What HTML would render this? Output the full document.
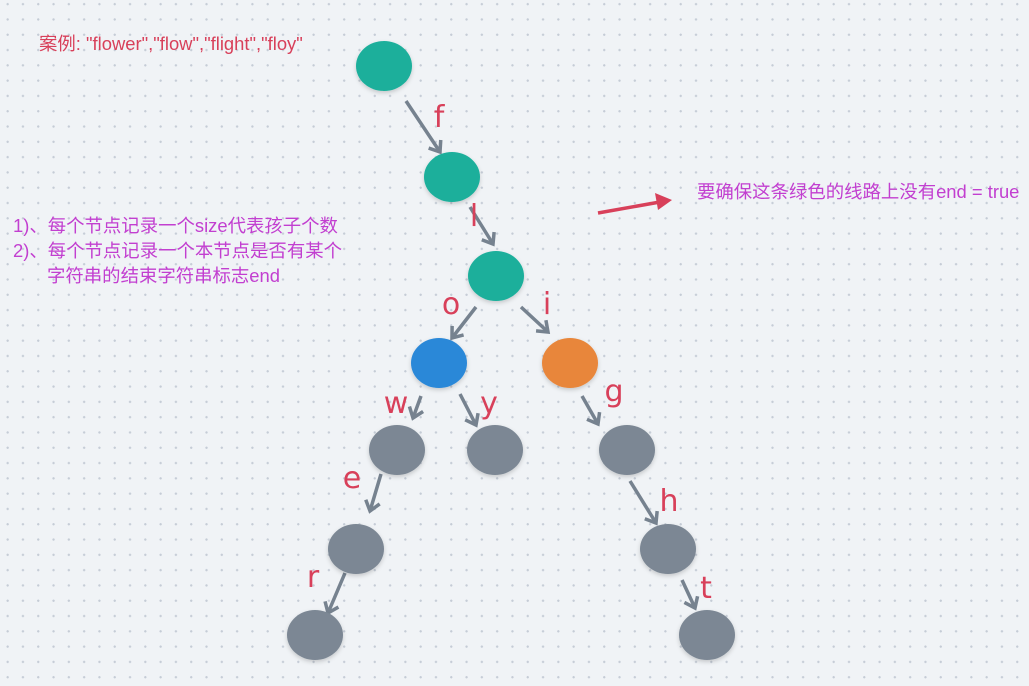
<!DOCTYPE html>
<html><head><meta charset="utf-8"><style>
html,body{margin:0;padding:0}
body{width:1029px;height:686px;overflow:hidden;background:#f0f3f6;
background-image:radial-gradient(circle,#c5ccd6 1px,transparent 1.3px);background-size:15.3px 15.3px;background-position:0px -3.5px;
font-family:"Liberation Sans","Noto Sans CJK SC",sans-serif;position:relative}
.t{position:absolute;white-space:nowrap}
</style></head><body>
<div class="t" style="left:39px;top:30px;font-size:18.4px;color:#d8405a">案例: "flower","flow","flight","floy"</div>
<div class="t" style="left:13px;top:213px;font-size:18.4px;color:#c23fd0;line-height:25px">1)、每个节点记录一个size代表孩子个数<br>2)、每个节点记录一个本节点是否有某个<br><span style="padding-left:34px">字符串的结束字符串标志end</span></div>
<div class="t" style="left:697px;top:178px;font-size:18.4px;color:#c23fd0">要确保这条绿色的线路上没有end = true</div>
<svg id="sv" width="1029" height="686" style="position:absolute;left:0;top:0" font-family="DejaVu Sans, sans-serif">
<defs>
<filter id="s" x="-30%" y="-30%" width="160%" height="170%"><feDropShadow dx="0" dy="2" stdDeviation="2" flood-color="#000" flood-opacity="0.18"/></filter>
</defs>
<g id="ar" stroke="#76828f" stroke-width="3.5" fill="none" stroke-linecap="butt">
<line x1="406" y1="101" x2="440" y2="152"/>
<line x1="470" y1="207" x2="493" y2="244"/>
<line x1="476" y1="307" x2="452" y2="338"/>
<line x1="521" y1="307" x2="548" y2="332"/>
<line x1="421" y1="396" x2="413" y2="418"/>
<line x1="460" y1="394" x2="476" y2="425"/>
<line x1="582" y1="396" x2="598" y2="424"/>
<line x1="381" y1="474" x2="370" y2="511"/>
<line x1="630" y1="481" x2="656" y2="523"/>
<line x1="345" y1="573" x2="328" y2="613"/>
<line x1="682" y1="580" x2="695" y2="608"/>
</g>
<line x1="598" y1="213" x2="660" y2="202" stroke="#d8405a" stroke-width="3.5"/>
<polygon points="672,200 655,193 658,210" fill="#d8405a"/>
<g filter="url(#s)">
<ellipse cx="384" cy="66" rx="28" ry="25" fill="#1aaf9b"/>
<ellipse cx="452" cy="177" rx="28" ry="25" fill="#1aaf9b"/>
<ellipse cx="496" cy="276" rx="28" ry="25" fill="#1aaf9b"/>
<ellipse cx="439" cy="363" rx="28" ry="25" fill="#2b88d8"/>
<ellipse cx="570" cy="363" rx="28" ry="25" fill="#e8863a"/>
<ellipse cx="397" cy="450" rx="28" ry="25" fill="#7b8794"/>
<ellipse cx="495" cy="450" rx="28" ry="25" fill="#7b8794"/>
<ellipse cx="627" cy="450" rx="28" ry="25" fill="#7b8794"/>
<ellipse cx="356" cy="549" rx="28" ry="25" fill="#7b8794"/>
<ellipse cx="668" cy="549" rx="28" ry="25" fill="#7b8794"/>
<ellipse cx="315" cy="635" rx="28" ry="25" fill="#7b8794"/>
<ellipse cx="707" cy="635" rx="28" ry="25" fill="#7b8794"/>
</g>
<g fill="#d8405a" font-size="30" text-anchor="middle">
<text x="439" y="127">f</text>
<text x="474" y="226">l</text>
<text x="451" y="314">o</text>
<text x="547" y="314">i</text>
<text x="396" y="413">w</text>
<text x="489" y="413">y</text>
<text x="614" y="401">g</text>
<text x="352" y="488">e</text>
<text x="669" y="511">h</text>
<text x="313" y="587">r</text>
<text x="706" y="598">t</text>
</g>
</svg>
<script>
var g=document.getElementById('ar');var ls=g.querySelectorAll('line');
for(var i=0;i<ls.length;i++){var l=ls[i];var x1=+l.getAttribute('x1'),y1=+l.getAttribute('y1'),x2=+l.getAttribute('x2'),y2=+l.getAttribute('y2');
var a=Math.atan2(y2-y1,x2-x1),L=12,s=0.65;
var p=document.createElementNS('http://www.w3.org/2000/svg','polyline');
p.setAttribute('points',(x2-L*Math.cos(a-s))+','+(y2-L*Math.sin(a-s))+' '+x2+','+y2+' '+(x2-L*Math.cos(a+s))+','+(y2-L*Math.sin(a+s)));
p.setAttribute('stroke-linejoin','miter');g.appendChild(p);}
</script>
</body></html>
